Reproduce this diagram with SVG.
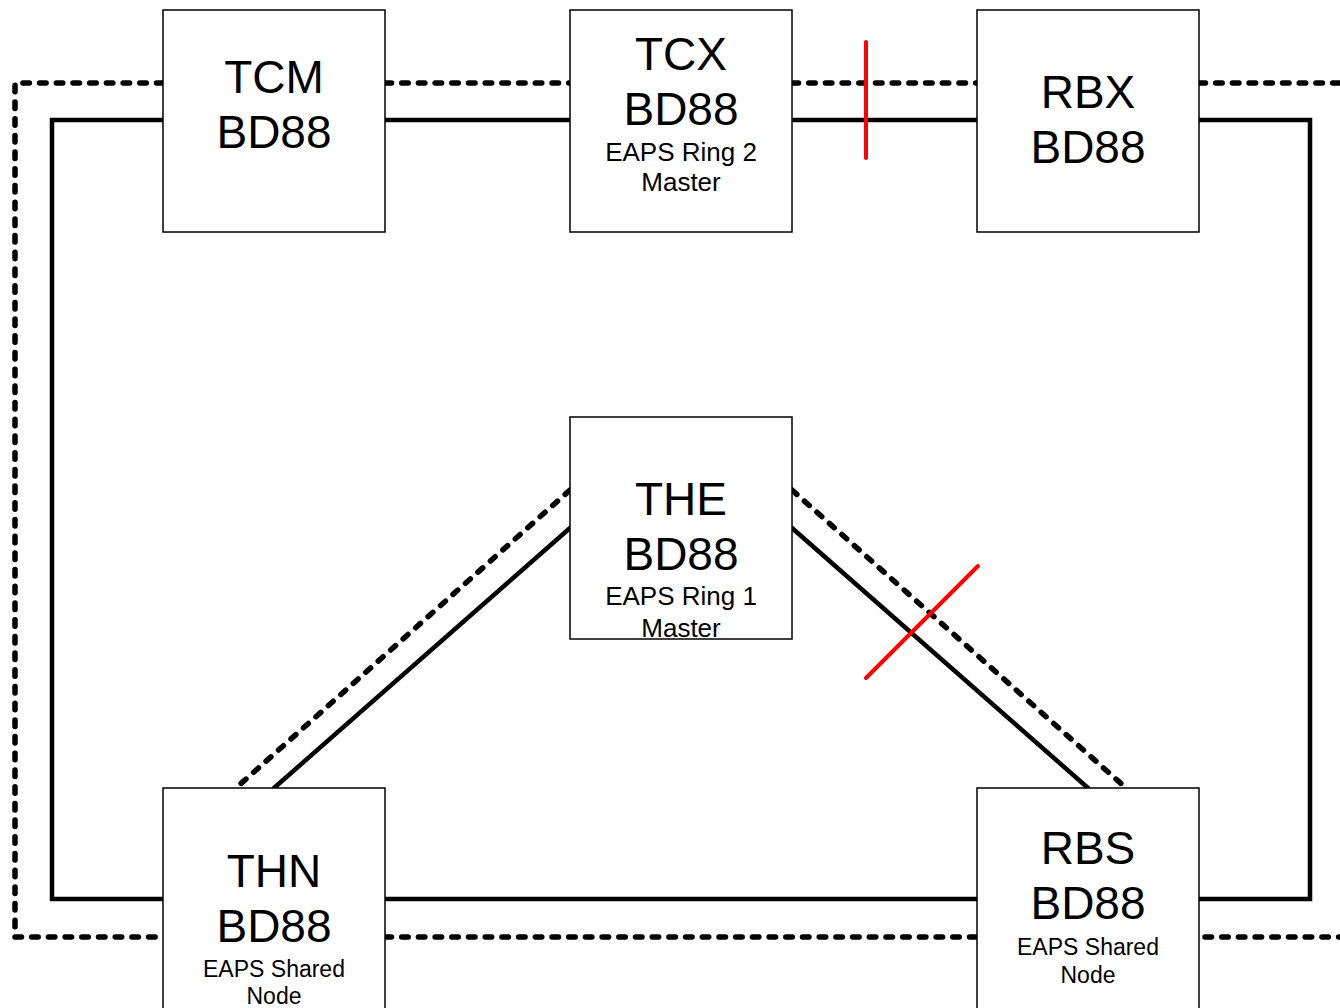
<svg xmlns="http://www.w3.org/2000/svg" width="1340" height="1008" viewBox="0 0 1340 1008">
<style>
.box{fill:#fff;stroke:#000;stroke-width:1.5}
.big{font-family:"Liberation Sans",Arial,sans-serif;font-size:46px;text-anchor:middle;fill:#000}
.sm{font-family:"Liberation Sans",Arial,sans-serif;font-size:26px;text-anchor:middle;fill:#000}
.sm2{font-family:"Liberation Sans",Arial,sans-serif;font-size:23px;text-anchor:middle;fill:#000}
.solid{fill:none;stroke:#000;stroke-width:4.5;stroke-linecap:round;stroke-linejoin:miter}
.dash{fill:none;stroke:#000;stroke-width:5.5;stroke-linecap:round;stroke-dasharray:6.5 10.2}
.red{fill:none;stroke:#f00;stroke-width:4;stroke-linecap:round}
</style>
<rect width="1340" height="1008" fill="#fff"/>
<g id="connectors">
<path class="dash" d="M163,83 H15 V937 H157"/>
<path class="solid" d="M163,120 H52 V899 H163"/>
<path class="dash" d="M385,83 H570"/>
<path class="solid" d="M385,120 H570"/>
<path class="dash" d="M792,83 H977"/>
<path class="solid" d="M792,120 H977"/>
<path class="dash" d="M1199,83 H1345"/>
<path class="solid" d="M1199,120 H1310 V899 H1199"/>
<path class="solid" d="M385,899 H977"/>
<path class="dash" d="M385,937 H977"/>
<path class="dash" d="M1205,937 H1345"/>
<path class="dash" d="M570,490 L236,788"/>
<path class="solid" d="M570,528 L274,788"/>
<path class="dash" d="M792,490 L1126,788"/>
<path class="solid" d="M792,528 L1088,788"/>
</g>
<g id="TCM"><rect class="box" x="163" y="10" width="222" height="222"/><text class="big" x="274" y="93">TCM</text><text class="big" x="274" y="148">BD88</text></g>
<g id="TCX"><rect class="box" x="570" y="10" width="222" height="222"/><text class="big" x="681" y="70">TCX</text><text class="big" x="681" y="125">BD88</text><text class="sm" x="681" y="161">EAPS Ring 2</text><text class="sm" x="681" y="191">Master</text></g>
<g id="RBX"><rect class="box" x="977" y="10" width="222" height="222"/><text class="big" x="1088" y="108">RBX</text><text class="big" x="1088" y="163">BD88</text></g>
<g id="THE"><rect class="box" x="570" y="417" width="222" height="222"/><text class="big" x="681" y="515">THE</text><text class="big" x="681" y="570">BD88</text><text class="sm" x="681" y="605">EAPS Ring 1</text><text class="sm" x="681" y="637">Master</text></g>
<g id="THN"><rect class="box" x="163" y="788" width="222" height="230"/><text class="big" x="274" y="887">THN</text><text class="big" x="274" y="942">BD88</text><text class="sm2" x="274" y="977">EAPS Shared</text><text class="sm2" x="274" y="1004">Node</text></g>
<g id="RBS"><rect class="box" x="977" y="788" width="222" height="230"/><text class="big" x="1088" y="864">RBS</text><text class="big" x="1088" y="919">BD88</text><text class="sm2" x="1088" y="955">EAPS Shared</text><text class="sm2" x="1088" y="983">Node</text></g>
<g id="breaks">
<path class="red" d="M866,42 V158"/>
<path class="red" d="M866,678 L978,566"/>
</g>
</svg>
